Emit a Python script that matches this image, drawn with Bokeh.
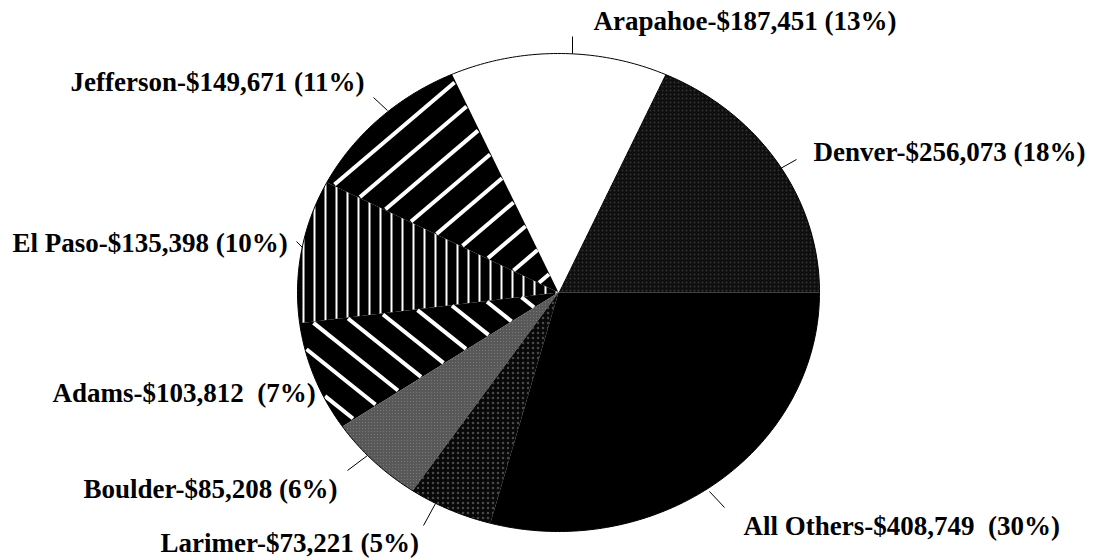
import numpy as np
from bokeh.plotting import figure
from bokeh.models import Range1d
from bokeh.embed import file_html
from bokeh.resources import INLINE
from bokeh.core.properties import value

# ---- data (counter-clockwise from 3 o'clock) ----
counties = ["Denver", "Arapahoe", "Jefferson", "El Paso", "Adams", "Boulder", "Larimer", "All Others"]
amounts = [256073, 187451, 149671, 135398, 103812, 85208, 73221, 408749]
labels = [
    "Denver-$256,073 (18%)",
    "Arapahoe-$187,451 (13%)",
    "Jefferson-$149,671 (11%)",
    "El Paso-$135,398 (10%)",
    "Adams-$103,812 \u00a0(7%)",
    "Boulder-$85,208 (6%)",
    "Larimer-$73,221 (5%)",
    "All Others-$408,749 \u00a0(30%)",
]

# ---- styles ----
fills = ["#0e0e0e", "#ffffff", "#000000", "#000000", "#000000", "#585858", "#080808", "#000000"]
hatches = [".", " ", " ", "|", " ", ",", ".", " "]
hatch_colors = ["#323232", "#ffffff", "#ffffff", "#ffffff", "#ffffff", "#787878", "#4a4a4a", "#000000"]
hatch_scales = [4, 12, 12, 11, 12, 3, 5, 12]
hatch_weights = [1, 1, 1, 2, 1, 1, 1, 1]
# diagonal white stripes (slope in screen pixels, horizontal spacing) or None
stripe_slope = [None, None, -0.85, None, 0.8, None, None, None]
stripe_gap = 40
stripe_width = 4

# ---- layout ----
W, H = 1099, 558
CX, CY, RX, RY = 558, 292, 261, 239
label_x = [813, 593, 70, 12, 52, 83, 160, 743]
label_y = [151, 20, 81, 242, 392, 488, 542, 525]
lead_x0 = [780, 572, 373, 296, 328, 347, 423, 709]
lead_y0 = [168, 36, 97, 241, 403, 470, 525, 491]
lead_x1 = [796, 572, 387, 302, 340, 367, 435, 724]
lead_y1 = [159, 53, 110, 247, 418, 455, 503, 507]

p = figure(width=W, height=H, x_range=Range1d(0, W), y_range=Range1d(H, 0),
           output_backend="svg", toolbar_location=None, min_border=0)
p.axis.visible = False
p.grid.visible = False
p.outline_line_color = None
p.background_fill_color = "white"
p.border_fill_color = "white"

total = float(sum(amounts))
cum = np.concatenate([[0.0], np.cumsum(amounts)]) / total * 2 * np.pi


def stripe_segments(a0, a1, slope, gap):
    sx = np.arange(CX - RX, CX + RX + 0.5, 0.5)
    x0s, y0s, x1s, y1s = [], [], [], []
    step = gap * abs(slope)
    for c in np.arange(-3000.0, 3000.0, step):
        sy = c + slope * sx
        dx = (sx - CX) / RX
        dy = (CY - sy) / RY
        r = np.hypot(dx, dy)
        ang = np.mod(np.arctan2(dy, dx), 2 * np.pi)
        inside = (r <= 0.995) & (ang >= a0 + 0.004) & (ang <= a1 - 0.004)
        idx = np.nonzero(inside)[0]
        if len(idx) > 1:
            x0s.append(sx[idx[0]]); y0s.append(sy[idx[0]])
            x1s.append(sx[idx[-1]]); y1s.append(sy[idx[-1]])
    return x0s, y0s, x1s, y1s


for i in range(len(amounts)):
    a = np.linspace(cum[i], cum[i + 1], 200)
    xs = np.concatenate([[CX], CX + RX * np.cos(a), [CX]])
    ys = np.concatenate([[CY], CY - RY * np.sin(a), [CY]])
    p.patch(xs, ys, fill_color=fills[i], line_color=None,
            hatch_pattern=hatches[i], hatch_color=hatch_colors[i],
            hatch_scale=hatch_scales[i], hatch_weight=hatch_weights[i])
    if stripe_slope[i] is not None:
        x0s, y0s, x1s, y1s = stripe_segments(cum[i], cum[i + 1], stripe_slope[i], stripe_gap)
        p.segment(x0=x0s, y0=y0s, x1=x1s, y1=y1s, line_color="white",
                  line_width=stripe_width, line_cap="butt")

# outline arc
t = np.linspace(0, 2 * np.pi, 400)
p.line(CX + RX * np.cos(t), CY - RY * np.sin(t), line_color="black", line_width=1)

p.segment(x0=lead_x0, y0=lead_y0, x1=lead_x1, y1=lead_y1, line_color="black", line_width=1)

p.text(x=label_x, y=label_y, text=labels, text_font=value("Liberation Serif"),
       text_font_style="bold", text_font_size="27px", text_baseline="alphabetic",
       text_align="left", text_color="black")

open("out.html", "w").write(file_html(p, INLINE))
